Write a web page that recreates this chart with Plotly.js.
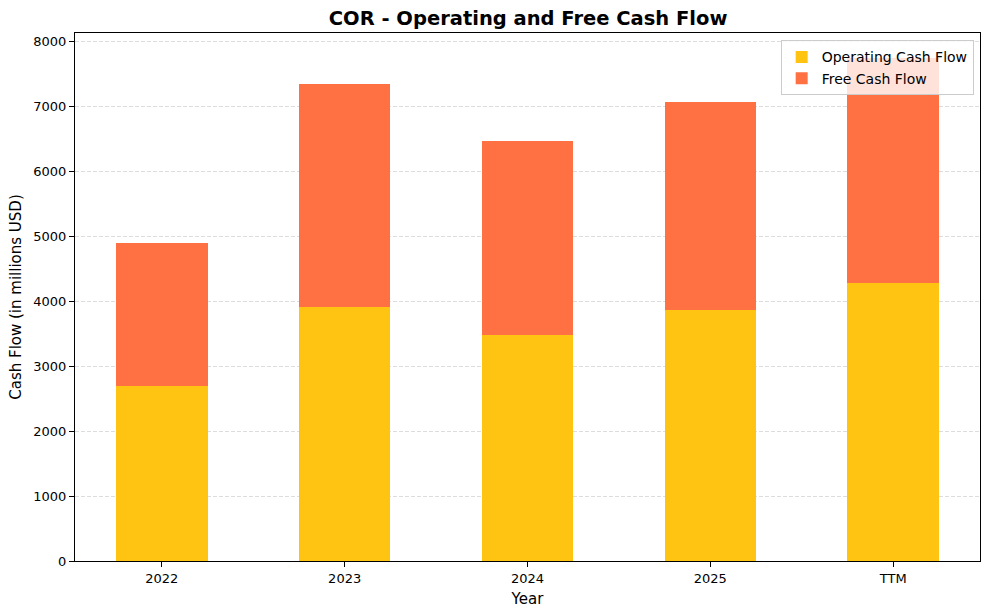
<!DOCTYPE html>
<html>
<head>
<meta charset="utf-8">
<script src="https://cdn.plot.ly/plotly-3.0.1.min.js"></script>
<style>
  html, body { margin: 0; padding: 0; background: #ffffff; }
  #chart { width: 989px; height: 615px; }
</style>
</head>
<body>
<div id="chart"></div>
<script>
const years = ['2022', '2023', '2024', '2025', 'TTM'];
const operatingCashFlow = [2692, 3908, 3477, 3862, 4277];
const freeCashFlow = [2200, 3430, 2985, 3200, 3461];

const fontFamily = 'DejaVu Sans, sans-serif';

const ocfBar = {
    x: years,
    y: operatingCashFlow,
    name: 'Operating Cash Flow',
    type: 'bar',
    width: 0.5,
    marker: {color: '#FFC312'},
};

const fcfBar = {
    x: years,
    y: freeCashFlow,
    name: 'Free Cash Flow',
    type: 'bar',
    width: 0.5,
    marker: {color: '#FF7043'},
};

const layout = {
    barmode: 'stack',
    width: 989,
    height: 615,
    paper_bgcolor: '#ffffff',
    plot_bgcolor: '#ffffff',
    font: {family: fontFamily, color: '#000000', size: 13},
    margin: {l: 75, r: 9, t: 33, b: 54},
    title: {
        text: '<b>COR - Operating and Free Cash Flow</b>',
        font: {family: fontFamily, size: 19.5, color: '#000000'},
        x: 0.534,
        xanchor: 'center',
        y: 0.97,
        yanchor: 'middle',
    },
    showlegend: true,
    legend: {
        x: 0.993,
        xanchor: 'right',
        y: 0.986,
        yanchor: 'top',
        traceorder: 'normal',
        bgcolor: 'rgba(255,255,255,0.8)',
        bordercolor: '#cccccc',
        borderwidth: 1,
        font: {family: fontFamily, size: 14, color: '#000000'},
        itemwidth: 30,
    },
    xaxis: {
        type: 'category',
        range: [-0.475, 4.475],
        showgrid: false,
        showline: true,
        mirror: true,
        linecolor: '#000000',
        linewidth: 1,
        ticks: 'outside',
        ticklen: 5,
        tickcolor: '#000000',
        tickfont: {family: fontFamily, size: 13},
        title: {text: 'Year', font: {family: fontFamily, size: 15}, standoff: 8},
        zeroline: false,
    },
    yaxis: {
        range: [0, 8125],
        dtick: 1000,
        tickformat: 'd',
        showgrid: true,
        gridcolor: '#dddddd',
        griddash: '4px,2px',
        gridwidth: 1,
        showline: true,
        mirror: true,
        linecolor: '#000000',
        linewidth: 1,
        ticks: 'outside',
        ticklen: 5,
        tickcolor: '#000000',
        tickfont: {family: fontFamily, size: 13},
        title: {text: 'Cash Flow (in millions USD)', font: {family: fontFamily, size: 15}, standoff: 8},
        zeroline: false,
    },
};

Plotly.newPlot('chart', [ocfBar, fcfBar], layout, {displayModeBar: false, staticPlot: true});
</script>
</body>
</html>
